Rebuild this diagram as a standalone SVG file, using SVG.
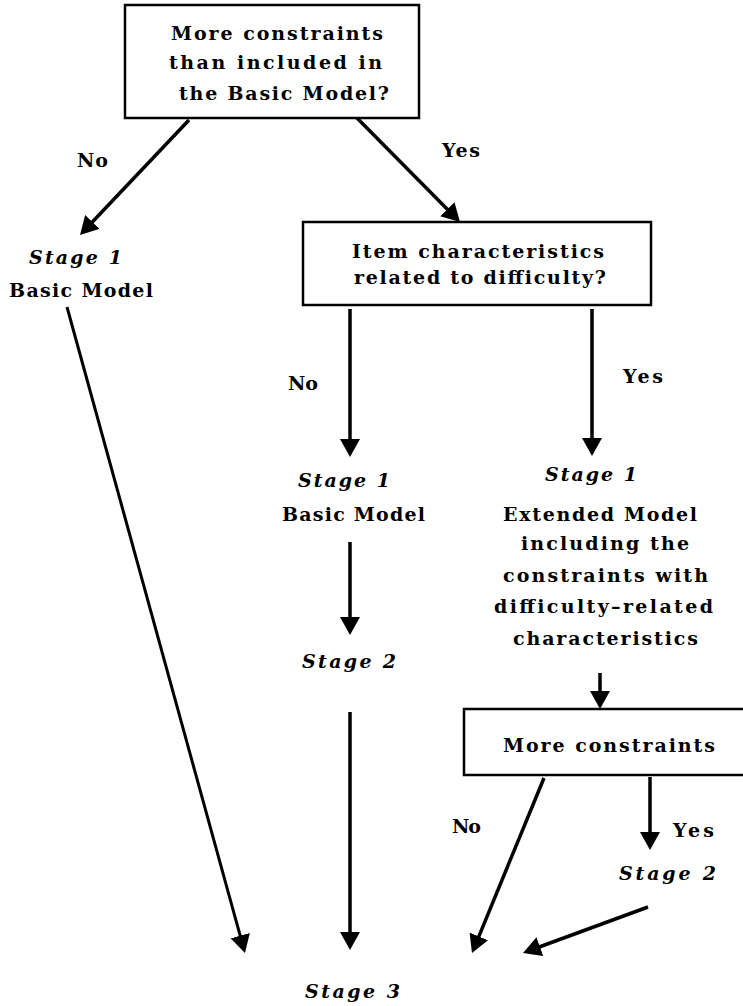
<svg xmlns="http://www.w3.org/2000/svg" width="743" height="1006" viewBox="0 0 743 1006">
<defs>
<style>
.t{font-family:"DejaVu Serif","Liberation Serif",serif;font-size:19px;font-weight:bold;fill:#000}
.i{font-family:"DejaVu Serif","Liberation Serif",serif;font-size:19px;font-weight:bold;font-style:italic;fill:#000}
.box{fill:#fff;stroke:#000;stroke-width:2.5}
.c{stroke:#000;stroke-width:3.5;fill:none;marker-end:url(#ah)}
</style>
<marker id="ah" viewBox="0 0 18 20" refX="8" refY="10" markerWidth="18" markerHeight="20" markerUnits="userSpaceOnUse" orient="auto">
<path d="M0,0 L18,10 L0,20 z" fill="#000"/>
</marker>
</defs>
<rect width="743" height="1006" fill="#fff"/>
<g id="connectors">
<line class="c" x1="189" y1="120" x2="86.9" y2="227.7"/>
<line class="c" x1="357" y1="118" x2="453" y2="214.9"/>
<line class="c" x1="350" y1="309" x2="350" y2="447"/>
<line class="c" x1="592" y1="309" x2="592" y2="446"/>
<line class="c" x1="350" y1="542" x2="350" y2="625"/>
<line class="c" x1="600" y1="673" x2="600" y2="699"/>
<line class="c" x1="350" y1="712" x2="350" y2="940"/>
<line class="c" x1="67" y1="307" x2="242.3" y2="943.4" style="stroke-width:3"/>
<line class="c" x1="544" y1="778" x2="475.8" y2="943.8"/>
<line class="c" x1="650" y1="777" x2="650" y2="840"/>
<line class="c" x1="648" y1="907" x2="532.4" y2="949.5"/>
<text class="t" x="77" y="167" textLength="31" lengthAdjust="spacing">No</text>
<text class="t" x="442" y="157" textLength="38" lengthAdjust="spacing">Yes</text>
<text class="t" x="288" y="390" textLength="30" lengthAdjust="spacing">No</text>
<text class="t" x="623" y="383" textLength="40" lengthAdjust="spacing">Yes</text>
<text class="t" x="452" y="833" textLength="29" lengthAdjust="spacing">No</text>
<text class="t" x="673" y="837" textLength="41" lengthAdjust="spacing">Yes</text>
</g>
<g id="q1">
<rect class="box" x="125" y="5" width="294" height="113"/>
<text class="t" x="171" y="40" textLength="212" lengthAdjust="spacing">More constraints</text>
<text class="t" x="169" y="69" textLength="213" lengthAdjust="spacing">than included in</text>
<text class="t" x="179" y="100" textLength="210" lengthAdjust="spacing">the Basic Model?</text>
</g>
<g id="left-stage1">
<text class="i" x="29" y="264" textLength="93" lengthAdjust="spacing">Stage 1</text>
<text class="t" x="9" y="297" textLength="144" lengthAdjust="spacing">Basic Model</text>
</g>
<g id="q2">
<rect class="box" x="303" y="222" width="348" height="83"/>
<text class="t" x="352" y="258" textLength="252" lengthAdjust="spacing">Item characteristics</text>
<text class="t" x="354" y="284" textLength="252" lengthAdjust="spacing">related to difficulty?</text>
</g>
<g id="mid-stage1">
<text class="i" x="298" y="487" textLength="92" lengthAdjust="spacing">Stage 1</text>
<text class="t" x="282" y="521" textLength="143" lengthAdjust="spacing">Basic Model</text>
</g>
<g id="mid-stage2">
<text class="i" x="302" y="668" textLength="94" lengthAdjust="spacing">Stage 2</text>
</g>
<g id="right-stage1">
<text class="i" x="545" y="481" textLength="92" lengthAdjust="spacing">Stage 1</text>
<text class="t" x="503" y="521" textLength="194" lengthAdjust="spacing">Extended Model</text>
<text class="t" x="521" y="550" textLength="168" lengthAdjust="spacing">including the</text>
<text class="t" x="503" y="582" textLength="205" lengthAdjust="spacing">constraints with</text>
<text class="t" x="494" y="613" textLength="219" lengthAdjust="spacing">difficulty–related</text>
<text class="t" x="513" y="645" textLength="185" lengthAdjust="spacing">characteristics</text>
</g>
<g id="q3">
<rect class="box" x="464" y="709" width="295" height="66"/>
<text class="t" x="503" y="752" textLength="212" lengthAdjust="spacing">More constraints</text>
</g>
<g id="right-stage2">
<text class="i" x="619" y="880" textLength="97" lengthAdjust="spacing">Stage 2</text>
</g>
<g id="stage3">
<text class="i" x="305" y="998" textLength="95" lengthAdjust="spacing">Stage 3</text>
</g>
</svg>
